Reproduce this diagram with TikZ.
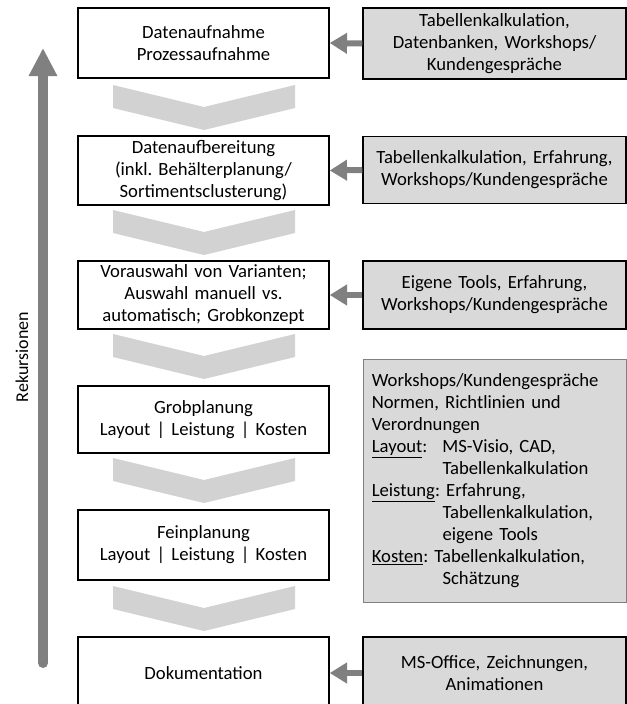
\documentclass[tikz,border=0pt]{standalone}
\usepackage{fontspec}
\setmainfont{Carlito}
\usetikzlibrary{arrows.meta}
\definecolor{boxgray}{RGB}{217,217,217}
\definecolor{chevgray}{RGB}{210,210,210}
\definecolor{arrgray}{RGB}{128,128,128}
\tikzset{
  stage/.style={draw=black, line width=1.1pt, fill=white, rectangle, inner sep=0pt,
    minimum width=188.25pt, text width=180pt, align=center},
  tool/.style={draw=black, line width=1.1pt, fill=boxgray, rectangle, inner sep=0pt,
    minimum width=197.25pt, text width=190pt, align=center},
  toolbig/.style={draw=arrgray, line width=0.75pt, fill=boxgray, rectangle, inner sep=0pt,
    minimum width=197.25pt, text width=190pt, align=left},
  conn/.style={draw=arrgray, line width=4.5pt, -{Triangle[width=15pt,length=13pt]}},
  recarrow/.style={draw=arrgray, line width=7.5pt, line cap=round, -{Triangle[width=20pt,length=21pt]}},
  chev/.style={fill=chevgray, draw=none}
}
\newcommand{\ind}{\hspace*{53pt}}
\frenchspacing
\begin{document}
\frenchspacing
\begin{tikzpicture}[x=0.75pt, y=-0.75pt, font=\fontsize{14}{16.5}\selectfont\frenchspacing]
\path[use as bounding box, clip] (0,0) rectangle (627,704);
\fill[white] (0,0) rectangle (627,704);

% chevrons
\foreach \t in {85,210,334,458,586}{
  \path[chev] (113,\t) -- (204,\t+22) -- (295,\t) -- (295,\t+23) -- (204,\t+45) -- (113,\t+23) -- cycle;
}

% left stages
\node[stage, minimum height=52.5pt] (l1) at (203.5,43) {Datenaufnahme\\Prozessaufnahme};
\node[stage, minimum height=51.75pt] (l2) at (203.5,170.5) {Datenaufbereitung\\(inkl. Behälterplanung/\\Sortimentsclusterung)};
\node[stage, minimum height=51pt] (l3) at (203.5,295) {Vorauswahl von Varianten;\\Auswahl manuell vs.\\automatisch; Grobkonzept};
\node[stage, minimum height=50.25pt] (l4) at (203.5,419.5) {Grobplanung\\Layout | Leistung | Kosten};
\node[stage, minimum height=52.5pt] (l5) at (203.5,545) {Feinplanung\\Layout | Leistung | Kosten};
\node[stage, minimum height=54pt] (l6) at (203.5,673) {Dokumentation};

% right tool boxes
\node[tool, minimum height=53.25pt] (r1) at (494.5,43.5) {Tabellenkalkulation,\\Datenbanken, Workshops/\\Kundengespräche};
\node[tool, minimum height=50.25pt] (r2) at (494.5,170) {Tabellenkalkulation, Erfahrung,\\Workshops/Kundengespräche};
\node[tool, minimum height=51pt] (r3) at (494.5,295) {Eigene Tools, Erfahrung,\\Workshops/Kundengespräche};
\node[toolbig, minimum height=182pt] (r4) at (494.5,481) {\hspace*{3pt}\begin{tabular}{@{}l@{}}
Workshops/Kundengespräche\\
Normen, Richtlinien und\\
Verordnungen\\
\makebox[53pt][l]{\underline{Layout}:}MS-Visio, CAD,\\
\ind Tabellenkalkulation\\
\underline{Leistung}: Erfahrung,\\
\ind Tabellenkalkulation,\\
\ind eigene Tools\\
\underline{Kosten}: Tabellenkalkulation,\\
\ind Schätzung
\end{tabular}};
\node[tool, minimum height=54pt] (r6) at (494.5,673) {MS-Office, Zeichnungen,\\Animationen};

% connectors
\draw[conn] (r1.west) -- (l1.east);
\draw[conn] (r2.west) -- (l2.east);
\draw[conn] (r3.west) -- (l3.east);
\draw[conn] (r6.west) -- (l6.east);

% recursion arrow
\coordinate (recstart) at (43,663);
\coordinate (recend) at (43,48);
\draw[recarrow] (recstart) -- (recend);
\node[rotate=90, font=\fontsize{13.5}{16}\selectfont] (reklabel) at (22,357) {Rekursionen};
\end{tikzpicture}
\end{document}
